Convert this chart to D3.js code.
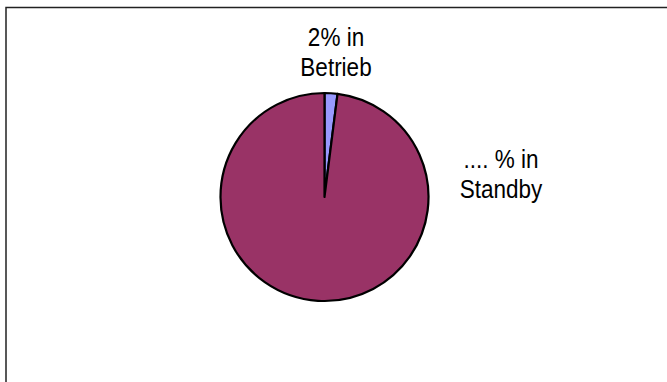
<!DOCTYPE html>
<html>
<head>
<meta charset="utf-8">
<script src="https://cdn.jsdelivr.net/npm/d3@7"></script>
<style>
  html, body { margin: 0; padding: 0; background: #fff; }
  svg { display: block; }
</style>
</head>
<body>
<main></main>
<script>
const categories = ['Betrieb', 'Standby'];
const values = [2, 98];
const labelLines = [['2% in', 'Betrieb'], ['.... % in', 'Standby']];
const colors = ['#9999ff', '#993366'];

const dimensions = {
  width: 667,
  height: 382,
  cx: 324.5,
  cy: 197,
  radius: 104,
};

const svg = d3
  .select('main')
  .append('svg')
  .attr('width', dimensions.width)
  .attr('height', dimensions.height);

// chart area frame: only left and top edges fall inside the picture
svg
  .append('path')
  .attr('d', `M 6 ${dimensions.height} V 7.5 H ${dimensions.width}`)
  .attr('fill', 'none')
  .attr('stroke', '#222')
  .attr('stroke-width', 1.5);

const pie = d3.pie().sort(null).value(d => d.value);
const arcs = pie(categories.map((name, i) => ({ name, value: values[i] })));

const arcGenerator = d3.arc().innerRadius(0).outerRadius(dimensions.radius);

const pieGroup = svg
  .append('g')
  .attr('transform', `translate(${dimensions.cx} ${dimensions.cy})`);

pieGroup
  .selectAll('path')
  .data(arcs)
  .join('path')
  .attr('d', arcGenerator)
  .attr('fill', (d, i) => colors[i])
  .attr('stroke', '#000')
  .attr('stroke-width', 2.2)
  .attr('stroke-linejoin', 'round');

// label anchors (centre x, first baseline) as Excel placed them
const labelPos = [
  { x: 336, y: 46 },
  { x: 501, y: 168 },
];
const stretch = 1.13; // the labels in the picture are a bit taller than wide

labelLines.forEach((lines, i) => {
  const text = svg
    .append('text')
    .attr('transform', `translate(${labelPos[i].x} ${labelPos[i].y}) scale(1 ${stretch})`)
    .attr('text-anchor', 'middle')
    .attr('font-family', 'Liberation Sans, Arial, sans-serif')
    .attr('font-size', 22.5)
    .attr('fill', '#000');
  lines.forEach((line, j) => {
    text
      .append('tspan')
      .attr('x', 0)
      .attr('y', (j * 30.5) / stretch)
      .text(line);
  });
});
</script>
</body>
</html>
